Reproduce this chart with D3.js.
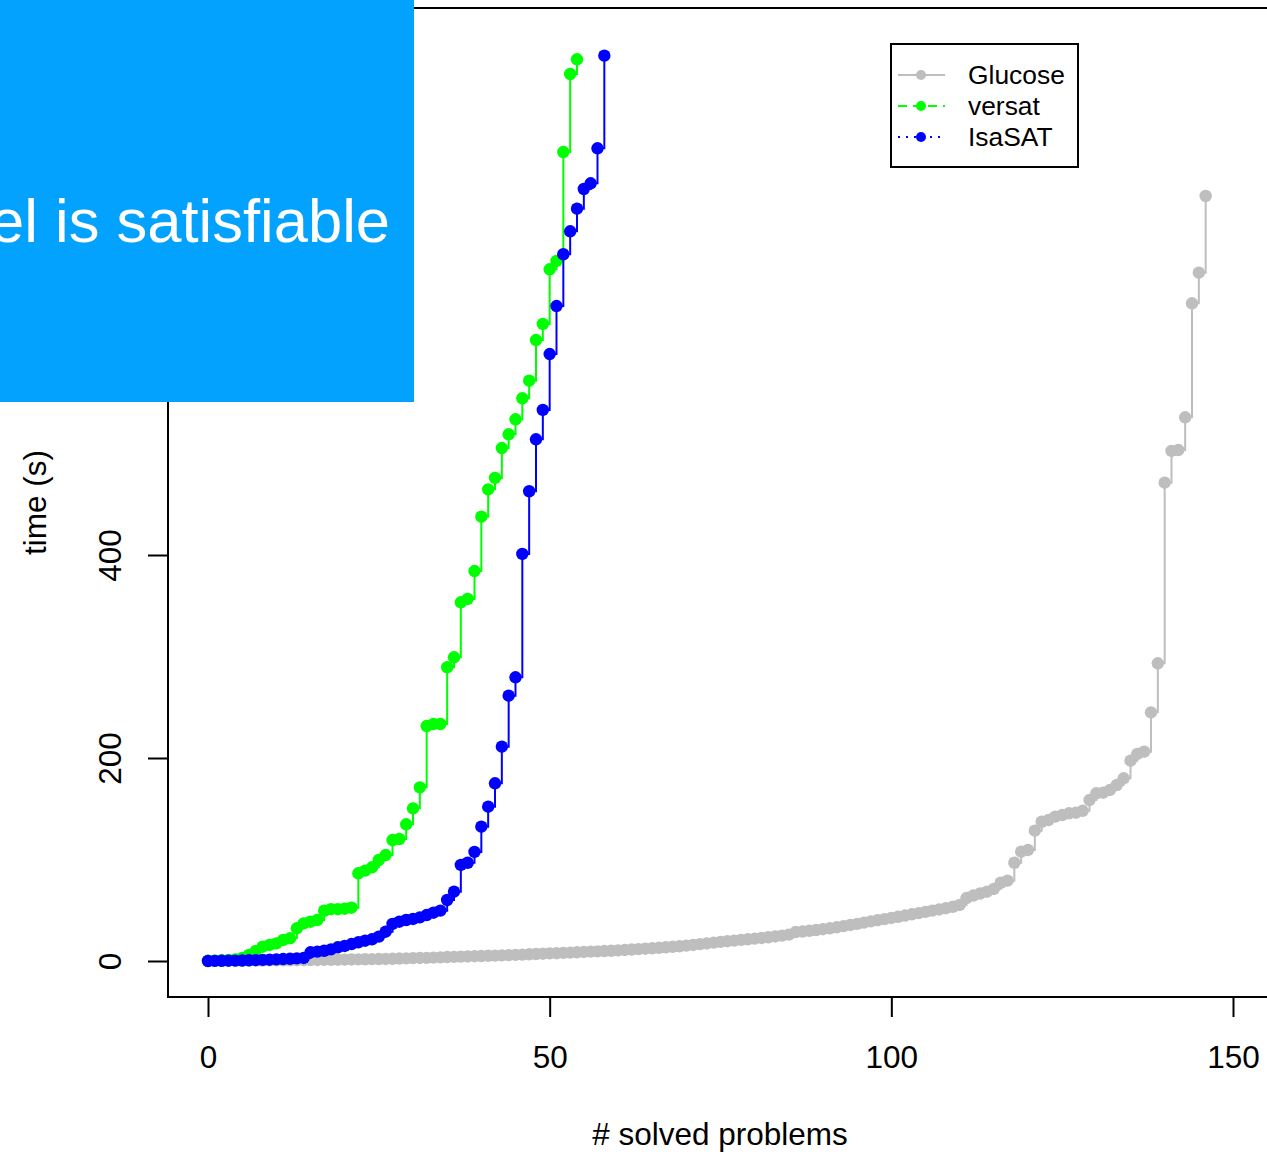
<!DOCTYPE html>
<html><head><meta charset="utf-8">
<script src="https://cdn.jsdelivr.net/npm/d3@7"></script>
<style>html,body{margin:0;padding:0;background:#fff;}svg{display:block;font-family:"Liberation Sans",Arial,Helvetica,sans-serif;}</style>
</head><body>
<svg id="chart" width="1267" height="1154"></svg>
<script>
// ---- data (sorted solving times in seconds, x = index of solved problem) ----
const glucoseTimes = [
  0.1,0.2,0.2,0.3,0.3,0.4,0.4,0.5,0.5,0.6,0.6,0.7,0.7,0.8,0.8,0.9,
  1.0,1.1,1.2,1.3,1.4,1.5,1.6,1.7,1.8,1.9,2.0,2.2,2.4,2.6,2.8,3.0,3.1,3.3,
  3.6,3.9,4.1,4.3,4.5,4.7,4.9,5.1,5.3,5.5,5.8,6.0,6.3,6.6,6.9,7.2,7.5,7.7,
  8.0,8.3,8.6,8.9,9.2,9.5,9.8,10.1,10.5,10.9,11.3,11.7,12.1,12.5,13.0,13.5,14.0,14.5,15.1,15.8,16.6,
  17.3,18.1,18.8,19.5,20.1,20.8,21.4,22.0,22.7,23.4,24.2,25.0,26.0,28.5,29.0,
  29.8,30.5,31.3,32.2,33.2,34.4,35.5,36.6,37.8,39.0,40.2,41.3,42.4,43.6,
  44.8,46.0,47.2,48.4,49.6,50.8,52.0,53.4,55.2,62.0,64.5,66.5,68.3,71.0,
  77.1,79.1,96.8,107.7,109.4,128.4,137.2,138.9,142.2,143.8,145.5,146.1,148,158.6,165.2,
  165.8,168.5,173.4,180,197.3,204,206.2,245,293.3,471.2,502.5,503.4,535.7,648,678.1,753.7
];
const versatTimes = [
  0.2,0.4,0.7,1.0,1.5,3,6,10,
  14.1,15.8,17.4,20.7,22.4,32.2,37.1,38.7,40.4,
  49.5,51,51,51.5,52.5,
  86.4,89.0,92.3,99.5,104.4,119.2,120.2,134.7,150.4,171.1,231.5,233.5,233.5,289.4,299.2,
  353.4,356.7,384.2,437.7,464.7,475.9,505.4,518.9,533.7,554.4,571.7,611.8,627.6,681.5,689.7,
  797,873.9,888.4
];
const isasatTimes = [
  0,0.1,0.2,0.3,0.4,0.5,0.7,0.9,1.1,1.3,1.6,1.9,2.2,2.6,3.0,
  8.6,9.2,10.1,11.5,13.5,14.8,16.7,18.4,20,21.4,24,28.9,36.5,38.7,40.4,41.4,43,45.3,47.6,49.6,60.1,68.3,
  94.6,96.8,107.4,132.3,152.0,175.1,211.1,261.4,279.5,401.0,462.8,514.0,542.9,598.0,645.3,
  696.3,718.9,741.2,760.6,766.2,800.7,891.9
];
const seriesNames = ["Glucose","versat","IsaSAT"];
const seriesColors = ["#bebebe","#00ff00","#0000ff"];
const legendDash = [null,"9,6","2,6"];
const xTicks = [0,50,100,150];
const yTicks = [0,200,400,600,800];
const xLabel = "# solved problems";
const yLabel = "time (s)";
const overlayText = "el is satisfiable";

// ---- drawing ----
const svg = d3.select("#chart");
const x = d3.scaleLinear().domain([0,150]).range([208,1233]);
const y = d3.scaleLinear().domain([0,400]).range([961,555]);
const plot = {left:168, top:8, right:1272, bottom:997};

// frame
svg.append("rect").attr("x",plot.left).attr("y",plot.top)
  .attr("width",plot.right-plot.left).attr("height",plot.bottom-plot.top)
  .attr("fill","none").attr("stroke","#000").attr("stroke-width",2);

// x axis
const xAxis = d3.axisBottom(x).tickValues(xTicks).tickSize(20).tickPadding(29).tickFormat(d3.format("d"));
const gx = svg.append("g").attr("transform",`translate(0,${plot.bottom})`).call(xAxis);
gx.select(".domain").remove();
gx.selectAll(".tick line").attr("stroke","#000").attr("stroke-width",2);
gx.selectAll(".tick text").attr("font-size",31.5).attr("fill","#000")
  .attr("font-family","Liberation Sans, Arial, sans-serif");

// y axis
const yAxis = d3.axisLeft(y).tickValues(yTicks).tickSize(20).tickFormat(d3.format("d"));
const gy = svg.append("g").attr("transform",`translate(${plot.left},0)`).call(yAxis);
gy.select(".domain").remove();
gy.selectAll(".tick line").attr("stroke","#000").attr("stroke-width",2);
gy.selectAll(".tick text").attr("font-size",31.5).attr("fill","#000")
  .attr("font-family","Liberation Sans, Arial, sans-serif")
  .attr("text-anchor","middle").attr("dy",null).attr("x",null)
  .attr("transform","translate(-47,0) rotate(-90)");

// axis labels
svg.append("text").attr("x",720).attr("y",1145).attr("text-anchor","middle")
  .attr("font-size",31.5).text(xLabel);
svg.append("text").attr("transform",`translate(46,${(plot.top+plot.bottom)/2}) rotate(-90)`)
  .attr("text-anchor","middle").attr("font-size",31.5).text(yLabel);

// series
const allSeries = [glucoseTimes, versatTimes, isasatTimes];
const line = d3.line().x((d,i)=>x(i)).y(d=>y(d)).curve(d3.curveStepAfter);
allSeries.forEach((vals,k)=>{
  const g = svg.append("g");
  g.append("path").datum(vals).attr("d",line).attr("fill","none")
    .attr("stroke",seriesColors[k]).attr("stroke-width",2);
  g.selectAll("circle").data(vals).join("circle")
    .attr("cx",(d,i)=>x(i)).attr("cy",d=>y(d)).attr("r",6.2)
    .attr("fill",seriesColors[k]);
});

// legend
const lg = svg.append("g");
lg.append("rect").attr("x",891).attr("y",44).attr("width",187).attr("height",123)
  .attr("fill","#fff").attr("stroke","#000").attr("stroke-width",2);
seriesNames.forEach((name,k)=>{
  const yy = 75 + k*31;
  lg.append("line").attr("x1",898).attr("x2",945).attr("y1",yy).attr("y2",yy)
    .attr("stroke",seriesColors[k]).attr("stroke-width",2)
    .attr("stroke-dasharray",legendDash[k]);
  lg.append("circle").attr("cx",921).attr("cy",yy).attr("r",5).attr("fill",seriesColors[k]);
  lg.append("text").attr("x",968).attr("y",yy+9).attr("font-size",26.4).text(name);
});

// overlay box
svg.append("rect").attr("x",0).attr("y",0).attr("width",414).attr("height",402).attr("fill","#02a2fe");
svg.append("text").attr("x",390).attr("y",242).attr("text-anchor","end")
  .attr("font-size",61.5).attr("fill","#fff").text(overlayText);
</script>
</body></html>
